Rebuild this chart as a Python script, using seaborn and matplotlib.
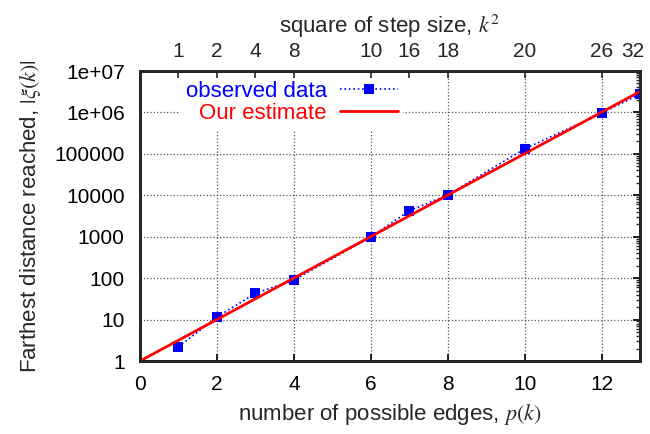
import numpy as np
import pandas as pd
import matplotlib
matplotlib.use("Agg")
import matplotlib.pyplot as plt
import matplotlib.transforms as mtransforms
import seaborn as sns
from matplotlib.ticker import LogLocator, NullFormatter

# data
p_k = [1, 2, 3, 4, 6, 7, 8, 10, 12, 13]
observed = [2.2, 11.5, 43, 90, 980, 4200, 10200, 132000, 960000, 2.76e6]
est_x = [0, 13]
est_y = [1, 3.2e6]

top_pos = [1, 2, 3, 4, 6, 7, 8, 10, 12, 13]
top_labels = ["1", "2", "4", "8", "10", "16", "18", "20", "26", "32"]
y_ticks = [1, 10, 100, 1000, 10000, 100000, 1e6, 1e7]
y_labels = ["1", "10", "100", "1000", "10000", "100000", "1e+06", "1e+07"]

sns.set_style("white")
plt.rcParams['font.family'] = ['Liberation Sans', 'DejaVu Sans']
plt.rcParams['mathtext.fontset'] = 'stix'

df = pd.DataFrame({'p': p_k, 'dist': observed})
est = pd.DataFrame({'p': est_x, 'dist': est_y})

fig = plt.figure(figsize=(6.5, 4.34), dpi=100)
ax = fig.add_axes([0.2154, 0.1682, 0.7692, 0.6682])

sns.lineplot(data=df, x='p', y='dist', ax=ax, color='#0000ff', linestyle=':',
             linewidth=1.2, marker='s', markersize=7, markeredgewidth=0,
             label='observed data')
sns.lineplot(data=est, x='p', y='dist', ax=ax, color='#ff0000', linewidth=2,
             label='Our estimate')

ax.set_yscale('log')
ax.set_xlim(0, 13)
ax.set_ylim(1, 1e7)
ax.set_xticks(range(0, 13, 2))
ax.set_yticks(y_ticks)
ax.set_yticklabels(y_labels)
ax.yaxis.set_minor_locator(LogLocator(base=10, subs=np.arange(2, 10), numticks=20))
ax.yaxis.set_minor_formatter(NullFormatter())

ax.grid(True, which='major', linestyle=':', color='#555555', linewidth=0.9)
ax.tick_params(which='major', direction='in', length=5, width=1.2,
               right=True, labelsize=15, pad=11, colors='black')
ax.tick_params(axis='x', pad=10)
ax.tick_params(which='minor', direction='in', length=3, width=1, right=True)
for s in ax.spines.values():
    s.set_linewidth(2)
    s.set_color('black')

ax.set_xlabel(r'number of possible edges, $p(k)$', fontsize=16, labelpad=6)
ax.set_ylabel(r'Farthest distance reached, $|\xi(k)|$', fontsize=16, labelpad=8)

ax2 = ax.twiny()
ax2.set_xlim(ax.get_xlim())
ax2.set_xticks(top_pos)
ax2.set_xticklabels(top_labels)
ax2.tick_params(direction='in', length=5, width=1.2, labelsize=15, pad=7)
ax2.set_xlabel(r'square of step size, $k^2$', fontsize=16, labelpad=7)
for s in ax2.spines.values():
    s.set_linewidth(2)
# nudge the last top label so it stays inside the figure
last = ax2.get_xticklabels()[-1]
last.set_transform(last.get_transform() +
                   mtransforms.ScaledTranslation(-5 / 72, 0, fig.dpi_scale_trans))

leg = ax.legend(loc='upper left', markerfirst=False, labelcolor='linecolor',
                frameon=True, facecolor='white', edgecolor='none', framealpha=1,
                fontsize=16, handlelength=2.6, handletextpad=0.6,
                borderaxespad=0, borderpad=0.25, labelspacing=0.05,
                bbox_to_anchor=(0.08, 0.985))
for t in leg.get_texts():
    t.set_ha('right')

fig.savefig('out.png', dpi=100)
